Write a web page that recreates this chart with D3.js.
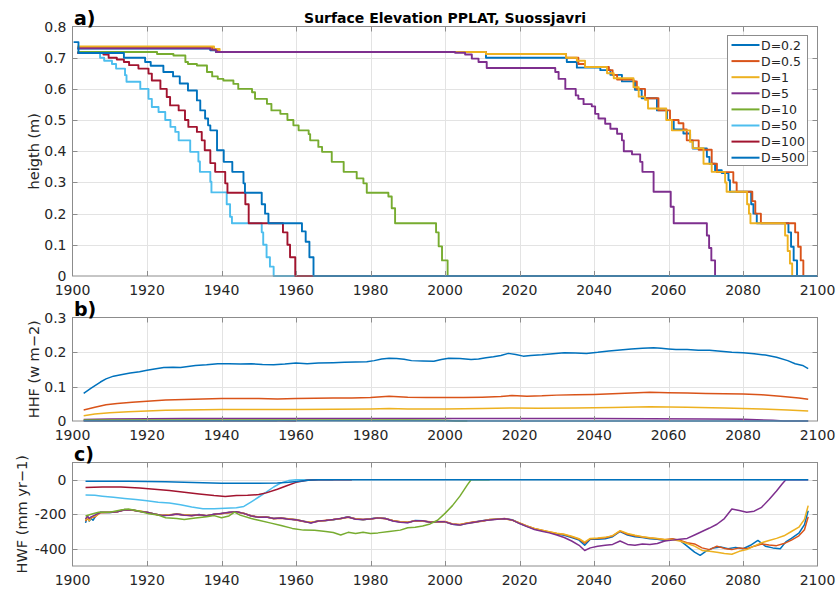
<!DOCTYPE html>
<html>
<head>
<meta charset="utf-8">
<script src="https://cdn.jsdelivr.net/npm/d3@7/dist/d3.min.js"></script>
<style>
  body { margin: 0; background: #fff; }
  text { font-family: 'DejaVu Sans', sans-serif; fill: #262626; }
</style>
</head>
<body>
<div id="chart"></div>
<script>
// legend names and matlab default colours
const seriesNames = ['D=0.2', 'D=0.5', 'D=1', 'D=5', 'D=10', 'D=50', 'D=100', 'D=500'];
const seriesColors = ['#0072BD', '#D95319', '#EDB120', '#7E2F8E', '#77AC30', '#4DBEEE', '#A2142F', '#0072BD'];

const yearTicks = [1900, 1920, 1940, 1960, 1980, 2000, 2020, 2040, 2060, 2080, 2100];
const heightTicks = [0, 0.1, 0.2, 0.3, 0.4, 0.5, 0.6, 0.7, 0.8];
const hhfTicks = [0, 0.1, 0.2, 0.3];
const hwfTicks = [-400, -200, 0];

// a) surface elevation, [year, height] step points
const heightD02 = [[1901.3,0.729],[1937,0.724],[1938.5,0.718],[2011,0.700],[2032.7,0.686],[2035.4,0.668],[2041.7,0.660],[2044.4,0.645],[2047.5,0.624],[2051,0.597],[2052.8,0.570],[2056.9,0.531],[2059.6,0.500],[2061.4,0.470],[2064,0.457],[2065.8,0.435],[2066.5,0.409],[2070.3,0.382],[2071,0.360],[2072.5,0.339],[2074.3,0.330],[2076.1,0.307],[2076.5,0.270],[2082.2,0.230],[2082.8,0.200],[2083.7,0.169],[2092.2,0.140],[2092.9,0.094],[2093.6,0.050],[2094.5,0],[2100,0]];
const heightD05 = [[1901.3,0.734],[1937.5,0.726],[1939,0.718],[2011,0.712],[2032.5,0.700],[2035.8,0.680],[2037.6,0.670],[2044,0.660],[2045,0.645],[2046.2,0.630],[2050.6,0.624],[2051.5,0.600],[2053.7,0.570],[2057.3,0.531],[2060.4,0.500],[2062.7,0.490],[2064,0.470],[2064.9,0.435],[2068.1,0.405],[2071.6,0.360],[2073,0.333],[2077.4,0.300],[2078.3,0.270],[2082.5,0.240],[2083.3,0.200],[2084.8,0.169],[2094,0.140],[2094.8,0.094],[2095.5,0.050],[2096.2,0],[2100,0]];
const heightD1 = [[1901.3,0.736],[1938,0.728],[1939.5,0.718],[2011,0.712],[2032.5,0.700],[2035.4,0.690],[2037.6,0.670],[2043.5,0.650],[2045.3,0.634],[2050.6,0.605],[2052,0.575],[2053.7,0.565],[2054.5,0.537],[2059.4,0.500],[2060.9,0.467],[2065.8,0.430],[2066.5,0.410],[2069.4,0.360],[2071.6,0.334],[2075.2,0.300],[2075.6,0.270],[2081.1,0.230],[2081.6,0.200],[2082,0.169],[2091.3,0.130],[2092,0.080],[2092.6,0.040],[2093.2,0],[2100,0]];
const heightD5 = [[1901.3,0.730],[1937,0.726],[1938.5,0.718],[2002.7,0.716],[2005.4,0.710],[2007.2,0.697],[2009,0.686],[2011.2,0.667],[2029.6,0.654],[2030.5,0.632],[2032.3,0.600],[2035.1,0.579],[2035.8,0.568],[2037.2,0.551],[2039.4,0.544],[2040.3,0.520],[2041.2,0.505],[2043,0.488],[2044.4,0.472],[2046.2,0.456],[2047.5,0.435],[2048,0.400],[2050.2,0.390],[2052.4,0.366],[2053,0.334],[2056,0.270],[2060.6,0.222],[2061.4,0.169],[2070.3,0.130],[2070.9,0.090],[2071.5,0.050],[2072.5,0],[2100,0]];
const heightD10 = [[1901.3,0.718],[1922.7,0.712],[1927.1,0.707],[1930.3,0.686],[1931,0.680],[1933.4,0.675],[1936.1,0.654],[1937.5,0.640],[1939,0.632],[1940.5,0.627],[1943.2,0.616],[1944.5,0.600],[1948.2,0.589],[1949,0.568],[1952.2,0.552],[1953.4,0.531],[1955.8,0.520],[1957.7,0.500],[1959.3,0.483],[1960.7,0.467],[1963.4,0.455],[1963.8,0.435],[1966,0.414],[1967,0.398],[1969.6,0.366],[1972.8,0.334],[1976.3,0.313],[1978.1,0.297],[1979,0.267],[1984.8,0.255],[1985.7,0.217],[1986.6,0.169],[1997.6,0.140],[1998.3,0.095],[1999.2,0.050],[2000.7,0],[2100,0]];
const heightD50 = [[1901.3,0.715],[1907.4,0.700],[1908.5,0.690],[1910.6,0.680],[1911.7,0.665],[1914.1,0.644],[1914.5,0.623],[1918.2,0.600],[1920.4,0.568],[1921.3,0.542],[1923.1,0.526],[1924.9,0.500],[1926.3,0.478],[1927.6,0.462],[1928.5,0.435],[1931.6,0.398],[1933.8,0.367],[1934.2,0.334],[1937,0.302],[1937.3,0.268],[1941.4,0.230],[1942.3,0.190],[1942.8,0.169],[1950.8,0.140],[1951.2,0.100],[1952.1,0.060],[1953,0.030],[1954,0],[2100,0]];
const heightD100 = [[1901.3,0.715],[1908.3,0.710],[1909.7,0.700],[1911.9,0.694],[1913.8,0.686],[1915.2,0.676],[1917.7,0.665],[1920.4,0.649],[1921.3,0.627],[1923.6,0.600],[1925.3,0.574],[1926.2,0.547],[1928.5,0.531],[1930.2,0.500],[1931.1,0.478],[1933.4,0.462],[1934.7,0.435],[1935.5,0.403],[1937,0.362],[1938.3,0.334],[1941,0.297],[1941.6,0.267],[1946.4,0.230],[1947.3,0.169],[1956.5,0.140],[1957.7,0.100],[1958.4,0.060],[1959.8,0],[2100,0]];
const heightD500 = [[1900.3,0.750],[1901.6,0.715],[1913.8,0.700],[1919.5,0.686],[1921,0.674],[1924.4,0.654],[1927,0.640],[1928.8,0.617],[1931,0.595],[1933.4,0.563],[1934.3,0.531],[1935.6,0.505],[1936.4,0.483],[1937,0.467],[1938.8,0.403],[1940.6,0.366],[1942.9,0.334],[1945.9,0.297],[1946.3,0.267],[1950.8,0.230],[1951.7,0.200],[1952.6,0.169],[1961.6,0.143],[1962.6,0.110],[1963.6,0.060],[1964.7,0],[2100,0]];

// b) HHF, [year, w m-2]
const hhfD02 = [[1903,0.080],[1905,0.095],[1907.5,0.113],[1909,0.122],[1911,0.130],[1913,0.134],[1915.5,0.139],[1918,0.143],[1920,0.147],[1922,0.151],[1924.5,0.155],[1927,0.156],[1929,0.155],[1931,0.158],[1933,0.161],[1936,0.163],[1939,0.166],[1942,0.166],[1945,0.165],[1948,0.166],[1951,0.164],[1954,0.163],[1957,0.165],[1960,0.168],[1963,0.166],[1966,0.168],[1970,0.169],[1973,0.170],[1976,0.171],[1979,0.172],[1981,0.175],[1983,0.180],[1985,0.182],[1987,0.181],[1989,0.179],[1991,0.175],[1994,0.174],[1997,0.173],[1999,0.178],[2001,0.182],[2004,0.181],[2007,0.178],[2009,0.180],[2011,0.183],[2013,0.186],[2015,0.190],[2017,0.196],[2019,0.193],[2021,0.188],[2023,0.190],[2026,0.192],[2029,0.195],[2032,0.198],[2035,0.197],[2038,0.196],[2041,0.199],[2044,0.203],[2047,0.206],[2050,0.209],[2053,0.211],[2056,0.212],[2058,0.211],[2060,0.209],[2062,0.207],[2065,0.207],[2068,0.205],[2071,0.205],[2074,0.202],[2077,0.199],[2080,0.198],[2083,0.195],[2086,0.191],[2089,0.185],[2092,0.175],[2094,0.166],[2096,0.161],[2097.5,0.152]];
const hhfD05 = [[1903,0.032],[1906,0.040],[1909,0.047],[1912,0.051],[1916,0.054],[1920,0.057],[1925,0.061],[1930,0.062],[1935,0.064],[1940,0.065],[1945,0.065],[1950,0.065],[1955,0.064],[1960,0.065],[1965,0.066],[1970,0.067],[1975,0.067],[1980,0.068],[1985,0.072],[1990,0.069],[1995,0.068],[2000,0.068],[2005,0.068],[2010,0.069],[2015,0.071],[2018,0.074],[2022,0.072],[2026,0.073],[2030,0.075],[2035,0.076],[2040,0.077],[2045,0.079],[2050,0.081],[2055,0.083],[2060,0.082],[2065,0.081],[2070,0.080],[2075,0.079],[2080,0.078],[2085,0.076],[2090,0.072],[2095,0.067],[2097.5,0.063]];
const hhfD1 = [[1903,0.015],[1906,0.020],[1910,0.024],[1915,0.027],[1920,0.029],[1925,0.031],[1930,0.032],[1940,0.033],[1950,0.033],[1960,0.033],[1970,0.034],[1980,0.035],[1985,0.036],[1990,0.035],[2000,0.035],[2010,0.036],[2018,0.038],[2025,0.037],[2035,0.038],[2045,0.039],[2055,0.041],[2065,0.040],[2075,0.038],[2085,0.035],[2092,0.032],[2097.5,0.029]];
const hhfD5 = [[1903,0.004],[1910,0.006],[1930,0.007],[1960,0.007],[2000,0.007],[2040,0.007],[2070,0.006],[2080,0.005],[2088,0.002],[2091,0],[2097.5,0]];
const hhfD10 = [[1903,0.003],[1950,0.003],[1990,0.003],[2000,0.002],[2003,0],[2006,0]];
const hhfD50 = [[1903,0.001],[1950,0.001],[1955,0]];
const hhfD100 = [[1903,0.001],[1955,0.001],[1960,0]];
const hhfD500 = [[1903,0.0005],[1965,0.0005],[2097.5,0]];

// c) HWF, [year, mm yr-1]
const hwfD02 = [[1903.5,-250],[1904,-215],[1904.5,-240],[1905,-225],[1905.5,-235],[1906.5,-200],[1907.5,-188],[1910,-190],[1912,-185],[1914,-172],[1916,-175],[1918,-182],[1920,-188],[1922,-198],[1924,-208],[1926,-205],[1928,-198],[1930,-205],[1932,-207],[1934,-202],[1936,-210],[1938,-200],[1940,-195],[1942,-190],[1944,-185],[1946,-195],[1948,-210],[1950,-218],[1952,-215],[1954,-225],[1956,-222],[1958,-228],[1960,-232],[1962,-240],[1964,-250],[1966,-238],[1968,-236],[1970,-232],[1972,-225],[1974,-215],[1976,-228],[1978,-232],[1980,-226],[1982,-220],[1984,-225],[1986,-238],[1988,-245],[1990,-248],[1992,-236],[1994,-238],[1996,-246],[1998,-243],[2000,-244],[2002,-258],[2004,-262],[2006,-252],[2008,-245],[2010,-238],[2012,-232],[2014,-228],[2016,-226],[2018,-232],[2020,-252],[2022,-270],[2024,-285],[2026,-295],[2028,-305],[2030,-315],[2032,-322],[2034,-335],[2036,-350],[2037.5,-380],[2039,-345],[2041,-345],[2043,-342],[2045,-330],[2047,-300],[2049,-320],[2051,-330],[2053,-335],[2055,-342],[2057,-345],[2059,-352],[2061,-345],[2063,-350],[2065,-385],[2067,-420],[2068.5,-438],[2070,-415],[2072,-395],[2074,-390],[2076,-400],[2078,-392],[2080,-400],[2082,-380],[2084,-352],[2086,-385],[2088,-395],[2090,-400],[2091.5,-360],[2093,-340],[2095,-310],[2096.5,-260],[2097.5,-180]];
const hwfD05 = [[1903.5,-240],[1904,-225],[1904.5,-232],[1905,-220],[1906,-215],[1907.5,-190],[1910,-188],[1912,-186],[1914,-174],[1916,-176],[1918,-183],[1920,-190],[1922,-200],[1924,-206],[1926,-204],[1928,-200],[1930,-204],[1932,-208],[1934,-203],[1936,-208],[1938,-201],[1940,-196],[1942,-191],[1944,-186],[1946,-196],[1948,-209],[1950,-216],[1952,-216],[1954,-224],[1956,-223],[1958,-226],[1960,-233],[1962,-242],[1964,-248],[1966,-240],[1968,-235],[1970,-231],[1972,-224],[1974,-217],[1976,-226],[1978,-230],[1980,-228],[1982,-222],[1984,-226],[1986,-236],[1988,-244],[1990,-246],[1992,-238],[1994,-240],[1996,-244],[1998,-244],[2000,-242],[2002,-256],[2004,-260],[2006,-250],[2008,-244],[2010,-240],[2012,-230],[2014,-229],[2016,-225],[2018,-234],[2020,-250],[2022,-268],[2024,-283],[2026,-293],[2028,-303],[2030,-312],[2032,-318],[2034,-330],[2036,-345],[2037.5,-368],[2039,-342],[2041,-340],[2043,-336],[2045,-326],[2047,-298],[2049,-316],[2051,-325],[2053,-332],[2055,-338],[2057,-342],[2059,-348],[2061,-342],[2063,-350],[2065,-365],[2067,-372],[2069,-395],[2071,-405],[2073,-385],[2075,-398],[2077,-405],[2079,-395],[2081,-400],[2083,-385],[2085,-372],[2087,-378],[2089,-382],[2091,-370],[2093,-350],[2095,-325],[2096.5,-290],[2097.5,-215]];
const hwfD1 = [[1903.5,-235],[1904,-220],[1904.5,-238],[1905,-218],[1906,-212],[1907.5,-192],[1910,-189],[1912,-184],[1914,-173],[1916,-177],[1918,-181],[1920,-189],[1922,-199],[1924,-207],[1926,-203],[1928,-199],[1930,-203],[1932,-206],[1934,-204],[1936,-209],[1938,-202],[1940,-197],[1942,-190],[1944,-187],[1946,-194],[1948,-211],[1950,-217],[1952,-214],[1954,-226],[1956,-221],[1958,-227],[1960,-231],[1962,-241],[1964,-247],[1966,-239],[1968,-237],[1970,-230],[1972,-226],[1974,-216],[1976,-227],[1978,-231],[1980,-227],[1982,-221],[1984,-224],[1986,-237],[1988,-243],[1990,-247],[1992,-237],[1994,-239],[1996,-245],[1998,-242],[2000,-243],[2002,-257],[2004,-261],[2006,-251],[2008,-246],[2010,-239],[2012,-231],[2014,-227],[2016,-227],[2018,-233],[2020,-251],[2022,-269],[2024,-282],[2026,-292],[2028,-302],[2030,-310],[2032,-316],[2034,-328],[2036,-342],[2037.5,-362],[2039,-340],[2041,-338],[2043,-334],[2045,-324],[2047,-295],[2049,-312],[2051,-322],[2053,-330],[2055,-336],[2057,-340],[2059,-346],[2061,-346],[2063,-355],[2065,-370],[2067,-385],[2069,-410],[2071,-415],[2073,-420],[2075,-428],[2077,-432],[2079,-415],[2081,-405],[2083,-385],[2085,-365],[2087,-352],[2089,-340],[2091,-325],[2093,-300],[2095,-275],[2096.5,-230],[2097.5,-150]];
const hwfD5 = [[1903.5,-228],[1904,-210],[1904.5,-225],[1905,-215],[1906,-205],[1907.5,-190],[1910,-190],[1912,-185],[1914,-175],[1916,-176],[1918,-184],[1920,-189],[1922,-199],[1924,-207],[1926,-206],[1928,-199],[1930,-206],[1932,-207],[1934,-203],[1936,-209],[1938,-200],[1940,-196],[1942,-189],[1944,-186],[1946,-195],[1948,-210],[1950,-218],[1952,-216],[1954,-225],[1956,-222],[1958,-229],[1960,-232],[1962,-241],[1964,-251],[1966,-239],[1968,-236],[1970,-231],[1972,-225],[1974,-216],[1976,-229],[1978,-231],[1980,-227],[1982,-221],[1984,-225],[1986,-239],[1988,-246],[1990,-249],[1992,-237],[1994,-238],[1996,-247],[1998,-244],[2000,-244],[2002,-258],[2004,-263],[2006,-253],[2008,-246],[2010,-238],[2012,-233],[2014,-229],[2016,-226],[2018,-233],[2020,-254],[2022,-272],[2024,-288],[2026,-298],[2028,-308],[2030,-320],[2032,-335],[2034,-355],[2036,-380],[2037.5,-410],[2039,-395],[2041,-385],[2043,-380],[2045,-375],[2047,-355],[2049,-375],[2051,-380],[2053,-372],[2055,-375],[2057,-370],[2059,-355],[2061,-350],[2063,-345],[2065,-340],[2067,-320],[2069,-300],[2071,-280],[2073,-258],[2075,-225],[2077,-170],[2079,-178],[2081,-188],[2083,-182],[2085,-160],[2087,-115],[2089,-65],[2090.5,-25],[2091.5,0],[2097.5,0]];
const hwfD10 = [[1903.5,-210],[1905,-200],[1907,-188],[1910,-188],[1913,-175],[1915,-170],[1918,-183],[1920,-195],[1923,-205],[1925,-220],[1928,-225],[1930,-230],[1933,-222],[1936,-215],[1938,-208],[1940,-220],[1942,-210],[1943.5,-188],[1945,-205],[1948,-225],[1950,-235],[1953,-250],[1956,-265],[1959,-282],[1962,-292],[1965,-293],[1968,-300],[1970,-306],[1972,-320],[1974,-305],[1976,-312],[1978,-305],[1980,-312],[1982,-308],[1985,-300],[1988,-292],[1990,-278],[1992,-275],[1994,-268],[1996,-256],[1998,-235],[2000,-195],[2002,-150],[2004,-95],[2006,-30],[2007,0],[2012,0]];
const hwfD50 = [[1903.5,-88],[1906,-90],[1908,-95],[1911,-102],[1914,-108],[1917,-115],[1920,-122],[1923,-130],[1926,-135],[1929,-145],[1932,-158],[1935,-168],[1938,-168],[1941,-165],[1944,-162],[1946,-155],[1948,-128],[1950,-100],[1952,-72],[1954,-42],[1956,-18],[1958,-5],[1960,0],[1970,0]];
const hwfD100 = [[1903.5,-45],[1908,-42],[1913,-42],[1918,-48],[1922,-55],[1926,-62],[1930,-72],[1934,-82],[1938,-92],[1941,-97],[1944,-92],[1947,-90],[1950,-86],[1952,-76],[1955,-55],[1957.5,-35],[1960,-15],[1963,-3],[1966,0],[1975,0]];
const hwfD500 = [[1903.5,-8],[1915,-9],[1925,-12],[1935,-17],[1940,-20],[1950,-20],[1955,-19],[1958,-15],[1961,-8],[1964,-2],[1966,0],[2097.5,0]];

const heightData = [heightD02, heightD05, heightD1, heightD5, heightD10, heightD50, heightD100, heightD500];
const hhfData = [hhfD02, hhfD05, hhfD1, hhfD5, hhfD10, hhfD50, hhfD100, hhfD500];
const hwfData = [hwfD02, hwfD05, hwfD1, hwfD5, hwfD10, hwfD50, hwfD100, hwfD500];

const width = 837;
const height = 591;
const plotLeft = 72.5;
const plotRight = 817.5;

const svg = d3.select('#chart')
    .append('svg')
    .attr('width', width)
    .attr('height', height);

// title
svg.append('text')
    .attr('x', 445)
    .attr('y', 22.5)
    .attr('text-anchor', 'middle')
    .style('font-size', '14px')
    .style('font-weight', 'bold')
    .style('fill', '#000')
    .text('Surface Elevation PPLAT, Suossjavri');

// one panel: grid, lines, box, ticks and labels
function drawPanel(opts) {
    const x = d3.scaleLinear().domain([1900, 2100]).range([plotLeft, plotRight]);
    const y = d3.scaleLinear().domain(opts.yDomain).range([opts.bottom, opts.top]);
    const g = svg.append('g');

    // grid lines
    g.append('g')
        .selectAll('line')
        .data(yearTicks.slice(1, -1))
        .join('line')
        .attr('x1', d => Math.round(x(d)) + 0.5)
        .attr('x2', d => Math.round(x(d)) + 0.5)
        .attr('y1', opts.top)
        .attr('y2', opts.bottom)
        .attr('stroke', '#e3e3e3');
    g.append('g')
        .selectAll('line')
        .data(opts.yTicks.filter(d => y(d) > opts.top + 1 && y(d) < opts.bottom - 1))
        .join('line')
        .attr('x1', plotLeft)
        .attr('x2', plotRight)
        .attr('y1', d => Math.round(y(d)) + 0.5)
        .attr('y2', d => Math.round(y(d)) + 0.5)
        .attr('stroke', '#e3e3e3');

    // data lines
    const line = d3.line()
        .x(d => x(d[0]))
        .y(d => y(d[1]))
        .curve(opts.curve);
    g.append('g')
        .selectAll('path')
        .data(opts.data)
        .join('path')
        .attr('d', line)
        .attr('fill', 'none')
        .attr('stroke', (d, i) => seriesColors[i])
        .attr('stroke-width', opts.lineWidth)
        .attr('stroke-linejoin', 'round');

    // box
    g.append('rect')
        .attr('x', plotLeft)
        .attr('y', opts.top)
        .attr('width', plotRight - plotLeft)
        .attr('height', opts.bottom - opts.top)
        .attr('fill', 'none')
        .attr('stroke', '#8c8c8c');

    // tick marks on all four sides
    const xt = yearTicks.slice(1, -1);
    g.append('g').selectAll('line').data(xt).join('line')
        .attr('x1', d => Math.round(x(d)) + 0.5).attr('x2', d => Math.round(x(d)) + 0.5)
        .attr('y1', opts.bottom).attr('y2', opts.bottom - 5)
        .attr('stroke', '#8c8c8c');
    g.append('g').selectAll('line').data(xt).join('line')
        .attr('x1', d => Math.round(x(d)) + 0.5).attr('x2', d => Math.round(x(d)) + 0.5)
        .attr('y1', opts.top).attr('y2', opts.top + 5)
        .attr('stroke', '#8c8c8c');
    const yt = opts.yTicks.filter(d => y(d) > opts.top + 1 && y(d) < opts.bottom - 1);
    g.append('g').selectAll('line').data(yt).join('line')
        .attr('x1', plotLeft).attr('x2', plotLeft + 5)
        .attr('y1', d => Math.round(y(d)) + 0.5).attr('y2', d => Math.round(y(d)) + 0.5)
        .attr('stroke', '#8c8c8c');
    g.append('g').selectAll('line').data(yt).join('line')
        .attr('x1', plotRight).attr('x2', plotRight - 5)
        .attr('y1', d => Math.round(y(d)) + 0.5).attr('y2', d => Math.round(y(d)) + 0.5)
        .attr('stroke', '#8c8c8c');

    // tick labels
    g.append('g').selectAll('text').data(yearTicks).join('text')
        .attr('x', d => x(d))
        .attr('y', opts.bottom + 18.5)
        .attr('text-anchor', 'middle')
        .style('font-size', '14px')
        .text(d => d);
    g.append('g').selectAll('text').data(opts.yTicks).join('text')
        .attr('x', 66.5)
        .attr('y', d => y(d))
        .attr('dy', '0.36em')
        .attr('text-anchor', 'end')
        .style('font-size', '14px')
        .text(opts.yFormat);

    // axis label
    g.append('text')
        .attr('transform', 'translate(' + opts.labelX + ',' + (opts.top + opts.bottom) / 2 + ') rotate(-90)')
        .attr('text-anchor', 'middle')
        .style('font-size', '14.5px')
        .text(opts.yLabel);

    // panel tag
    g.append('text')
        .attr('x', 74)
        .attr('y', opts.top - 1.5)
        .style('font-size', '19px')
        .style('font-weight', 'bold')
        .style('fill', '#000')
        .text(opts.tag);

    return { x, y };
}

drawPanel({
    top: 26.5, bottom: 276, yDomain: [0, 0.8], yTicks: heightTicks,
    yFormat: d => d === 0 ? '0' : d.toFixed(1),
    yLabel: 'heigth (m)', labelX: 39, tag: 'a)', data: heightData,
    curve: d3.curveStepAfter, lineWidth: 1.9
});
drawPanel({
    top: 317.5, bottom: 421, yDomain: [0, 0.3], yTicks: hhfTicks,
    yFormat: d => d === 0 ? '0' : d.toFixed(1),
    yLabel: 'HHF (w m\u22122)', labelX: 39, tag: 'b)', data: hhfData,
    curve: d3.curveLinear, lineWidth: 1.5
});
drawPanel({
    top: 462.5, bottom: 566, yDomain: [-500, 100], yTicks: hwfTicks,
    yFormat: d => d,
    yLabel: 'HWF (mm yr\u22121)', labelX: 27, tag: 'c)', data: hwfData,
    curve: d3.curveLinear, lineWidth: 1.5
});

// legend
const legend = svg.append('g').attr('transform', 'translate(727.5,35.5)');
legend.append('rect')
    .attr('width', 80)
    .attr('height', 130)
    .attr('fill', '#fff')
    .attr('stroke', '#8c8c8c');
const items = legend.selectAll('g')
    .data(seriesNames)
    .join('g')
    .attr('transform', (d, i) => 'translate(0,' + (9.5 + i * 16.1) + ')');
items.append('line')
    .attr('x1', 4)
    .attr('x2', 32)
    .attr('stroke', (d, i) => seriesColors[i])
    .attr('stroke-width', 2);
items.append('text')
    .attr('x', 33.5)
    .attr('dy', '0.36em')
    .style('font-size', '12.5px')
    .text(d => d);
</script>
</body>
</html>
